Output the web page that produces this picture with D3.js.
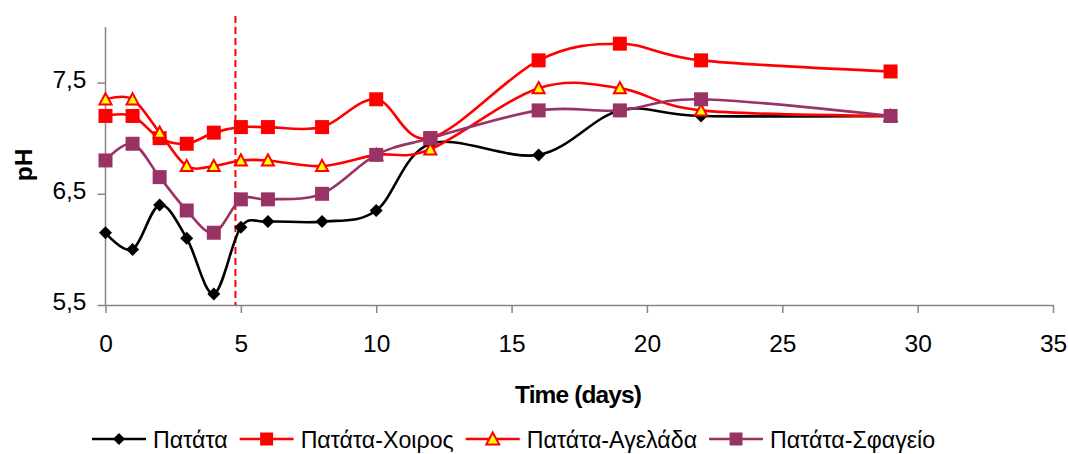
<!DOCTYPE html>
<html>
<head>
<meta charset="utf-8">
<script src="https://cdn.jsdelivr.net/npm/d3@7"></script>
<style>
  html, body { margin: 0; padding: 0; background: #fff; }
  svg { display: block; font-family: "Liberation Sans", Arial, sans-serif; }
</style>
</head>
<body>
<svg id="chart" width="1068" height="454"></svg>
<script>
// Sampling days and pH readings for each substrate mix
const days = [0, 1, 2, 3, 4, 5, 6, 8, 10, 12, 16, 19, 22, 29];
const patata  = [6.15, 6.0, 6.4, 6.1, 5.6, 6.2, 6.25, 6.25, 6.35, 6.95, 6.85, 7.25, 7.2, 7.2];
const xoiros  = [7.2, 7.2, 7.0, 6.95, 7.05, 7.1, 7.1, 7.1, 7.35, 7.0, 7.7, 7.85, 7.7, 7.6];
const agelada = [7.35, 7.35, 7.05, 6.75, 6.75, 6.8, 6.8, 6.75, 6.85, 6.9, 7.45, 7.45, 7.25, 7.2];
const sfageio = [6.8, 6.95, 6.65, 6.35, 6.15, 6.45, 6.45, 6.5, 6.85, 7.0, 7.25, 7.25, 7.35, 7.2];

const seriesNames = ["Πατάτα", "Πατάτα-Χοιρος", "Πατάτα-Αγελάδα", "Πατάτα-Σφαγείο"];
const xTicks = [0, 5, 10, 15, 20, 25, 30, 35];
const yTicks = [5.5, 6.5, 7.5];
const markerDay = 4.8;   // reference line (dashed)

const series = [
  { name: seriesNames[0], values: patata,  line: "#000000", marker: "diamond",  fill: "#000000", stroke: "none" },
  { name: seriesNames[1], values: xoiros,  line: "#FF0000", marker: "square",   fill: "#FF0000", stroke: "none" },
  { name: seriesNames[2], values: agelada, line: "#FF0000", marker: "triangle", fill: "#FFFF00", stroke: "#FF0000" },
  { name: seriesNames[3], values: sfageio, line: "#993366", marker: "square",   fill: "#993366", stroke: "none" }
];

const svg = d3.select("#chart");
const plotLeft = 105.5, plotRight = 1053, plotTop = 27, plotBottom = 305;

const x = d3.scaleLinear().domain([0, 35]).range([plotLeft, plotRight]);
const y = d3.scaleLinear().domain([5.5, 8.0]).range([plotBottom, plotTop]);
const fmt = d => String(d).replace(".", ",");
const axisColor = "#868686";

// Axes
const xAxis = svg.append("g").attr("transform", `translate(0,${plotBottom})`)
  .call(d3.axisBottom(x).tickValues(xTicks).tickSize(8).tickSizeOuter(0).tickPadding(22).tickFormat(d => d));
const yAxis = svg.append("g").attr("transform", `translate(${plotLeft},0)`)
  .call(d3.axisLeft(y).tickValues(yTicks).tickSize(8).tickSizeOuter(0).tickPadding(11).tickFormat(fmt));

[xAxis, yAxis].forEach(g => {
  g.select(".domain").attr("stroke", axisColor).attr("stroke-width", 1.5);
  g.selectAll(".tick line").attr("stroke", axisColor).attr("stroke-width", 1.5);
  g.selectAll(".tick text").attr("fill", "#000").attr("font-size", 24.5)
    .attr("font-family", "'Liberation Sans', Arial, sans-serif");
});
// y axis line reaches the top of the plot area
yAxis.select(".domain").attr("d", `M0,${plotBottom}V${plotTop}`);
yAxis.selectAll(".tick text").attr("dy", "0.2em");

// Axis titles
svg.append("text").attr("x", 578).attr("y", 403).attr("text-anchor", "middle")
  .attr("font-size", 24.5).attr("font-weight", "bold").attr("letter-spacing", -0.9)
  .text("Time (days)");
svg.append("text").attr("transform", "translate(32,165) rotate(-90)").attr("text-anchor", "middle")
  .attr("font-size", 24.5).attr("font-weight", "bold")
  .text("pH");

// Dashed reference line
svg.append("line")
  .attr("x1", x(markerDay)).attr("x2", x(markerDay))
  .attr("y1", 16).attr("y2", plotBottom)
  .attr("stroke", "#FF0000").attr("stroke-width", 2).attr("stroke-dasharray", "7,4");

// Marker shapes
function markerPath(kind, s) {
  const h = s / 2;
  if (kind === "diamond") return `M0,${-h}L${h},0L0,${h}L${-h},0Z`;
  if (kind === "square") return `M${-h},${-h}H${h}V${h}H${-h}Z`;
  if (kind === "triangle") {
    const th = s * 0.85;
    return `M0,${-th / 2 - 1}L${h},${th / 2}L${-h},${th / 2}Z`;
  }
}
const markerSize = { diamond: 13, square: 14, triangle: 12 };

const line = d3.line()
  .x(d => x(d[0])).y(d => y(d[1]))
  .curve(d3.curveCardinal.tension(0));

// Series: line then markers, drawn in series order
series.forEach(s => {
  const pts = days.map((d, i) => [d, s.values[i]]);
  const g = svg.append("g");
  g.append("path").datum(pts).attr("d", line)
    .attr("fill", "none").attr("stroke", s.line).attr("stroke-width", 2.6)
    .attr("stroke-linejoin", "round");
  g.selectAll("path.m").data(pts).join("path").attr("class", "m")
    .attr("transform", d => `translate(${x(d[0])},${y(d[1])})`)
    .attr("d", markerPath(s.marker, markerSize[s.marker]))
    .attr("fill", s.fill)
    .attr("stroke", s.stroke)
    .attr("stroke-width", s.stroke === "none" ? 0 : 2);
});

// Legend
const legend = svg.append("g").attr("transform", "translate(0,439)");
let lx = 92;
series.forEach(s => {
  const item = legend.append("g").attr("transform", `translate(${lx},0)`);
  item.append("line").attr("x1", 0).attr("x2", 54).attr("y1", 0).attr("y2", 0)
    .attr("stroke", s.line).attr("stroke-width", 2.6);
  item.append("path").attr("transform", "translate(27,0)")
    .attr("d", markerPath(s.marker, s.marker === "diamond" ? 12 : 13))
    .attr("fill", s.fill).attr("stroke", s.stroke)
    .attr("stroke-width", s.stroke === "none" ? 0 : 2);
  const t = item.append("text").attr("x", 61).attr("y", 8.5)
    .attr("font-size", 23.2).attr("fill", "#000").text(s.name);
  lx += 61 + t.node().getComputedTextLength() + 12;
});
</script>
</body>
</html>
